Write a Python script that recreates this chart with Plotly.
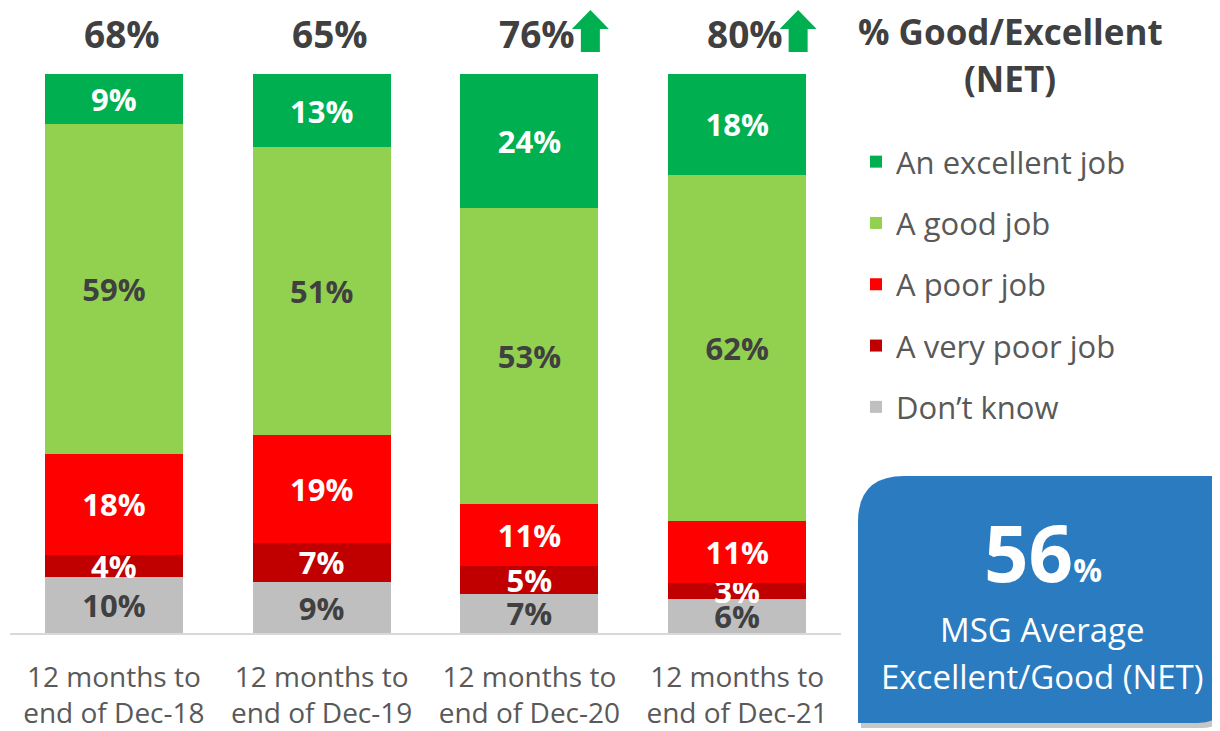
import plotly.graph_objects as go

# ---------------- data ----------------
categories = ["12 months to<br>end of Dec-18", "12 months to<br>end of Dec-19",
              "12 months to<br>end of Dec-20", "12 months to<br>end of Dec-21"]
dont_know = [10, 9, 7, 6]
very_poor = [4, 7, 5, 3]
poor = [18, 19, 11, 11]
good = [59, 51, 53, 62]
excellent = [9, 13, 24, 18]
net_good_excellent = [68, 65, 76, 80]
significant_up = [False, False, True, True]
msg_average = 56

series = [
    ("Don’t know", dont_know, "#BFBFBF", "#404040"),
    ("A very poor job", very_poor, "#C00000", "#FFFFFF"),
    ("A poor job", poor, "#FF0000", "#FFFFFF"),
    ("A good job", good, "#92D050", "#404040"),
    ("An excellent job", excellent, "#00B050", "#FFFFFF"),
]

# ---------------- layout constants ----------------
OFF = 8                      # page body margin of the browser
W, H = 1220 - OFF, 731 - OFF
PLOT_L, PLOT_R, PLOT_T, PLOT_B = 10, 841, 74, 633   # in page pixels
ML, MR, MT, MB = PLOT_L - OFF, W - (PLOT_R - OFF), PLOT_T - OFF, H - (PLOT_B - OFF)
PW = PLOT_R - PLOT_L
PH = PLOT_B - PLOT_T
FONT = "Open Sans"


def px_x(px):
    return (px - PLOT_L) / PW


def px_y(py):
    return (PLOT_B - py) / PH


fig = go.Figure()
n = len(series)
for i, (name, vals, color, tcolor) in enumerate(series):
    fig.add_trace(go.Bar(
        x=categories, y=vals, name=name,
        marker=dict(color=color, line=dict(width=0)),
        text=[f"{v}%" for v in vals],
        textposition="inside", insidetextanchor="middle", textangle=0,
        insidetextfont=dict(family=FONT, size=31, color=tcolor, weight="bold"),
        legendgroup=f"g{i}", legendrank=n - i, hoverinfo="skip",
    ))

annotations = []
shapes = []
for i, cat in enumerate(categories):
    annotations.append(dict(
        x=cat, y=100, xref="x", yref="y", text=f"<b>{net_good_excellent[i]}%</b>",
        showarrow=False, yanchor="middle", xanchor="center", yshift=PLOT_T - 33, xshift=8,
        font=dict(family=FONT, size=37, color="#404040"),
    ))
    if significant_up[i]:
        c = PLOT_L + PW * (i + 0.5) / len(categories) + 61
        path = (f"M {px_x(c - 9.5)},{px_y(52)} L {px_x(c - 9.5)},{px_y(29)} "
                f"L {px_x(c - 18.5)},{px_y(29)} L {px_x(c)},{px_y(10)} "
                f"L {px_x(c + 18.5)},{px_y(29)} L {px_x(c + 9.5)},{px_y(29)} "
                f"L {px_x(c + 9.5)},{px_y(52)} Z")
        shapes.append(dict(type="path", xref="paper", yref="paper", path=path,
                           fillcolor="#00B050", line=dict(width=0)))

# header above legend
for txt, yc in (("% Good/Excellent", 32), ("(NET)", 78)):
    annotations.append(dict(
        x=px_x(1010), y=px_y(yc), xref="paper", yref="paper",
        text=f"<b>{txt}</b>", showarrow=False,
        xanchor="center", yanchor="middle",
        font=dict(family=FONT, size=35, color="#404040"),
    ))


# blue box
def box_path(dx=0, dy=0):
    l, t, r, b = 858 + dx, 476 + dy, 1226 + dx, 723 + dy
    r1, r2 = 46, 28
    return (f"M {px_x(l)},{px_y(t + r1)} Q {px_x(l)},{px_y(t)} {px_x(l + r1)},{px_y(t)} "
            f"L {px_x(r)},{px_y(t)} L {px_x(r)},{px_y(b - r2)} "
            f"Q {px_x(r)},{px_y(b)} {px_x(r - r2)},{px_y(b)} "
            f"L {px_x(l)},{px_y(b)} Z")


shapes.append(dict(type="path", xref="paper", yref="paper", path=box_path(3, 5),
                   fillcolor="rgba(0,0,0,0.22)", line=dict(width=0), layer="above"))
shapes.append(dict(type="path", xref="paper", yref="paper", path=box_path(),
                   fillcolor="#2A7BC0", line=dict(width=0), layer="above"))

annotations.append(dict(
    x=px_x(1043), y=px_y(552), xref="paper", yref="paper",
    text=f"<b>{msg_average}<span style='font-size:32px'>%</span></b>",
    showarrow=False, xanchor="center", yanchor="middle",
    font=dict(family=FONT, size=78, color="#FFFFFF"),
))
for txt, yc in (("MSG Average", 629), ("Excellent/Good (NET)", 676)):
    annotations.append(dict(
        x=px_x(1042), y=px_y(yc), xref="paper", yref="paper", text=txt,
        showarrow=False, xanchor="center", yanchor="middle",
        font=dict(family=FONT, size=33, color="#FFFFFF"),
    ))

fig.update_layout(
    width=W, height=H,
    margin=dict(l=ML, r=MR, t=MT, b=MB, pad=0, autoexpand=False),
    barmode="stack", barnorm="percent", bargap=0.336,
    plot_bgcolor="white", paper_bgcolor="white",
    uniformtext=dict(minsize=31, mode="show"),
    showlegend=True,
    legend=dict(
        x=px_x(856), y=px_y(135), xanchor="left", yanchor="top",
        traceorder="grouped", tracegroupgap=18,
        font=dict(family=FONT, size=31, color="#595959"),
        bgcolor="rgba(0,0,0,0)",
    ),
    xaxis=dict(
        showline=True, linecolor="#D9D9D9", linewidth=2,
        showgrid=False, zeroline=False, ticks="",
        tickfont=dict(family=FONT, size=28, color="#595959"),
        ticklabelstandoff=18,
        fixedrange=True,
    ),
    yaxis=dict(range=[0, 100], visible=False, showgrid=False, zeroline=False, fixedrange=True),
    annotations=annotations, shapes=shapes,
    font=dict(family=FONT),
)

fig.write_html("out.html")
